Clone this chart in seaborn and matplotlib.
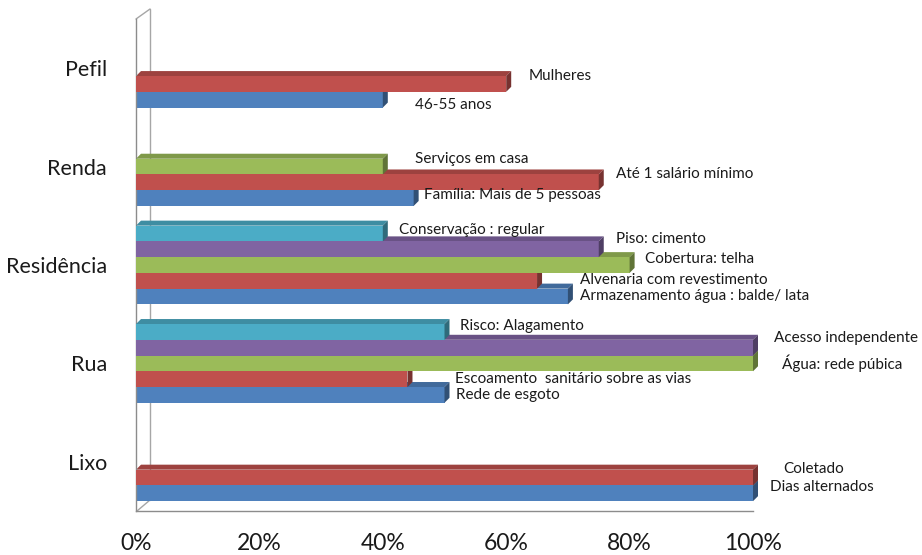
import numpy as np
import pandas as pd
import matplotlib
matplotlib.use("Agg")
import matplotlib.pyplot as plt
import seaborn as sns
from matplotlib.patches import Polygon
from matplotlib.lines import Line2D
from matplotlib.ticker import FixedLocator, PercentFormatter

# ---------------- data ----------------
categories = ["Pefil", "Renda", "Residência", "Rua", "Lixo"]
# series listed from the bottom bar of each group (blue) to the top one (cyan)
series = ["Série 1", "Série 2", "Série 3", "Série 4", "Série 5"]

values_s1 = [40, 45, 70, 50, 100]
values_s2 = [60, 75, 65, 44, 100]
values_s3 = [np.nan, 40, 80, 100, np.nan]
values_s4 = [np.nan, np.nan, 75, 100, np.nan]
values_s5 = [np.nan, np.nan, 40, 50, np.nan]

labels_s1 = ["46-55 anos", "Família: Mais de 5 pessoas",
             "Armazenamento água : balde/ lata", "Rede de esgoto", "Dias alternados"]
labels_s2 = ["Mulheres", "Até 1 salário mínimo", "Alvenaria com revestimento",
             "Escoamento  sanitário sobre as vias", "Coletado"]
labels_s3 = [None, "Serviços em casa", "Cobertura: telha", "Água: rede púbica", None]
labels_s4 = [None, None, "Piso: cimento", "Acesso independente", None]
labels_s5 = [None, None, "Conservação : regular", "Risco: Alagamento", None]

x_ticks = [0, 20, 40, 60, 80, 100]

# ---------------- styles ----------------
colors = {"Série 1": "#4F81BD", "Série 2": "#C0504D", "Série 3": "#9BBB59",
          "Série 4": "#8064A2", "Série 5": "#4BACC6"}
# label nudges (pixels: right, up) relative to the bar end / bar centre
nudge_s1 = [(32, -5), (10, 3), (12, 0), (11, 0), (17, 6)]
nudge_s2 = [(22, 8), (17, 8), (43, 1), (48, 0), (30, 9)]
nudge_s3 = [None, (32, 8), (15, 6), (29, 0), None]
nudge_s4 = [None, None, (17, 10), (21, 10), None]
nudge_s5 = [None, None, (16, 4), (15, 6), None]

all_vals = [values_s1, values_s2, values_s3, values_s4, values_s5]
all_labels = [labels_s1, labels_s2, labels_s3, labels_s4, labels_s5]
all_nudges = [nudge_s1, nudge_s2, nudge_s3, nudge_s4, nudge_s5]

rows = []
for s, vals in zip(series, all_vals):
    for c, v in zip(categories, vals):
        if not np.isnan(v):
            rows.append({"categoria": c, "serie": s, "valor": v})
df = pd.DataFrame(rows)

sns.set_theme(style="white")
FONT = ["Lato", "DejaVu Sans"]
plt.rcParams["font.family"] = FONT

W, H = 922, 555
fig = plt.figure(figsize=(W / 100, H / 100), dpi=100)
ax_left, ax_right, ax_top, ax_bot = 136, 753, 19, 511
ax = fig.add_axes([ax_left / W, 1 - ax_bot / H, (ax_right - ax_left) / W, (ax_bot - ax_top) / H])
ax.set_facecolor("none")

hue_order = series[::-1]  # top bar of the group first
sns.barplot(data=df, y="categoria", x="valor", hue="serie", order=categories,
            hue_order=hue_order, palette=colors, orient="h", width=0.8,
            dodge=True, saturation=1, edgecolor="none", linewidth=0, legend=False, ax=ax)

ax.set_xlim(0, 100)
ax.set_ylim(len(categories) - 0.5, -0.5)
ax.set_xlabel("")
ax.set_ylabel("")
ax.xaxis.set_major_locator(FixedLocator(x_ticks))
ax.xaxis.set_major_formatter(PercentFormatter(100, decimals=0))

grey = "#8C8C8C"
for side in ["top", "right"]:
    ax.spines[side].set_visible(False)
for side in ["left", "bottom"]:
    ax.spines[side].set_color(grey)
    ax.spines[side].set_linewidth(1.0)

ax.tick_params(axis="x", which="major", length=7, width=1, color=grey, direction="out",
               pad=9, labelsize=16.5, labelcolor="#1a1a1a")
ax.tick_params(axis="y", which="major", length=0, pad=21, labelsize=15.5, labelcolor="#1a1a1a")
ax.yaxis.set_minor_locator(FixedLocator(np.arange(-0.5, len(categories), 1.0)))
ax.tick_params(axis="y", which="minor", length=7, width=1, color=grey, direction="out")

fig.canvas.draw()

# ---------- pseudo 3D faces, derived from the seaborn bars ----------
def darker(hex_color, f):
    r, g, b = matplotlib.colors.to_rgb(hex_color)
    return (r * f, g * f, b * f)

to_data = ax.transData.inverted()
depth_px = 5
p0 = to_data.transform(ax.transData.transform((0, 0)))
p1 = to_data.transform(ax.transData.transform((0, 0)) + np.array([depth_px, depth_px]))
ddx, ddy = p1[0] - p0[0], p1[1] - p0[1]  # ddy negative (axis inverted -> upward)

# containers follow hue_order (top bar first); draw bottom series first
for k, (level, container) in enumerate(zip(hue_order, ax.containers)):
    s_idx = series.index(level)
    z = 2 + s_idx
    base = colors[level]
    for patch in container:
        patch.set_zorder(z)
        patch.set_clip_on(False)
        x0 = patch.get_x()
        x1 = x0 + patch.get_width()
        y0 = patch.get_y()
        y1 = y0 + patch.get_height()
        ytop, ybot = min(y0, y1), max(y0, y1)
        top = Polygon([(x0, ytop), (x1, ytop), (x1 + ddx, ytop + ddy), (x0 + ddx, ytop + ddy)],
                      closed=True, facecolor=darker(base, 0.82), edgecolor="none",
                      zorder=z - 0.5, clip_on=False)
        side = Polygon([(x1, ytop), (x1 + ddx, ytop + ddy), (x1 + ddx, ybot + ddy), (x1, ybot)],
                       closed=True, facecolor=darker(base, 0.62), edgecolor="none",
                       zorder=z + 0.1, clip_on=False)
        ax.add_patch(top)
        ax.add_patch(side)
        # label
        cat_idx = int(round((ytop + ybot) / 2))
        lab = all_labels[s_idx][cat_idx]
        if lab:
            dx, dy = all_nudges[s_idx][cat_idx]
            ax.annotate(lab, xy=(x1, (ytop + ybot) / 2), xytext=(dx, dy),
                        textcoords="offset pixels", ha="left", va="center",
                        fontsize=11, color="#1a1a1a", family=FONT,
                        annotation_clip=False, zorder=20)

# ---------- back wall of the 3D frame ----------
def px(x, y):
    return (x / W, 1 - y / H)

wall = [((150, 9), (150, 500)), ((136, 19), (150, 9)), ((150, 500), (137, 511))]
for a, b in wall:
    (xa, ya), (xb, yb) = px(*a), px(*b)
    fig.add_artist(Line2D([xa, xb], [ya, yb], color="#A6A6A6", lw=1.0,
                          transform=fig.transFigure, zorder=0))

fig.savefig("out.png", dpi=100)
